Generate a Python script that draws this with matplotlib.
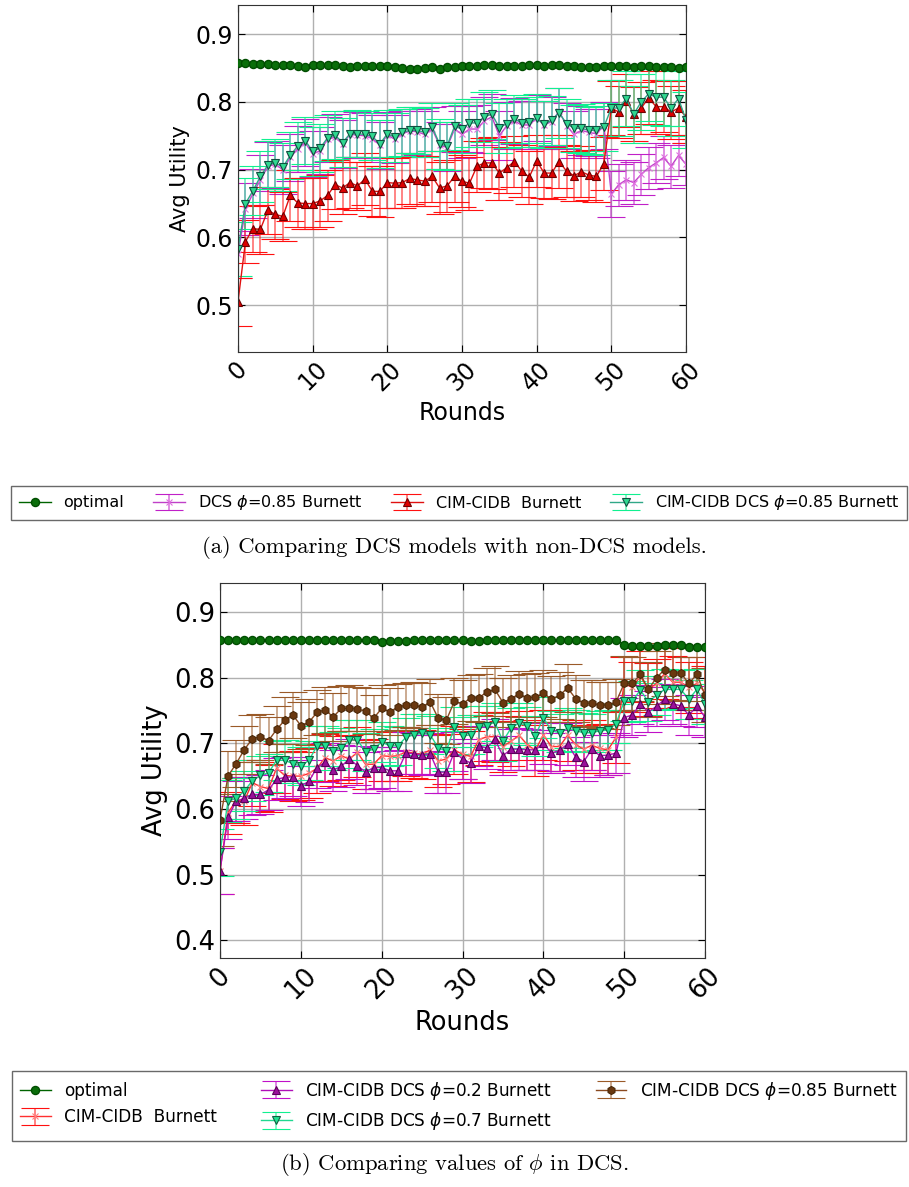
import numpy as np
import matplotlib
matplotlib.use('Agg')
import matplotlib.pyplot as plt
from matplotlib.ticker import MultipleLocator

plt.rcParams['mathtext.fontset'] = 'dejavusans'

# -----------------------------------------------------------------------
# Data
# -----------------------------------------------------------------------
ROUNDS = list(range(61))

optimal_a = [0.857, 0.857, 0.856, 0.856, 0.856, 0.855, 0.854, 0.854, 0.853, 0.851,
             0.855, 0.855, 0.854, 0.854, 0.853, 0.852, 0.853, 0.853, 0.853, 0.853,
             0.853, 0.851, 0.850, 0.849, 0.849, 0.850, 0.851, 0.849, 0.851, 0.851,
             0.853, 0.853, 0.853, 0.854, 0.854, 0.853, 0.853, 0.853, 0.853, 0.854,
             0.854, 0.853, 0.854, 0.854, 0.853, 0.853, 0.851, 0.852, 0.852, 0.853,
             0.853, 0.853, 0.853, 0.852, 0.853, 0.853, 0.852, 0.851, 0.851, 0.850, 0.851]

optimal_b = [0.857, 0.857, 0.857, 0.857, 0.857, 0.857, 0.857, 0.857, 0.857, 0.857,
             0.857, 0.857, 0.857, 0.857, 0.857, 0.857, 0.857, 0.857, 0.857, 0.857,
             0.854, 0.855, 0.856, 0.856, 0.857, 0.857, 0.857, 0.857, 0.857, 0.857,
             0.857, 0.855, 0.856, 0.857, 0.857, 0.857, 0.857, 0.857, 0.857, 0.857,
             0.857, 0.857, 0.857, 0.857, 0.857, 0.857, 0.857, 0.857, 0.857, 0.857,
             0.850, 0.848, 0.848, 0.848, 0.848, 0.849, 0.850, 0.849, 0.847, 0.846, 0.846]

# DCS phi=0.85 Burnett
dcs085 = [0.575, 0.642, 0.665, 0.685, 0.705, 0.708, 0.700, 0.718, 0.731, 0.740,
          0.723, 0.728, 0.745, 0.748, 0.738, 0.752, 0.751, 0.750, 0.746, 0.736,
          0.751, 0.745, 0.753, 0.757, 0.756, 0.752, 0.760, 0.736, 0.733, 0.760,
          0.752, 0.760, 0.760, 0.772, 0.778, 0.750, 0.765, 0.772, 0.766, 0.766,
          0.776, 0.766, 0.771, 0.786, 0.765, 0.752, 0.758, 0.755, 0.753, 0.765,
          0.664, 0.678, 0.685, 0.681, 0.693, 0.703, 0.710, 0.718, 0.705, 0.721, 0.708]
dcs085_err = [0.035, 0.038, 0.036, 0.037, 0.036, 0.035, 0.036, 0.035, 0.034, 0.035,
              0.034, 0.035, 0.033, 0.034, 0.035, 0.034, 0.034, 0.033, 0.034, 0.035,
              0.034, 0.035, 0.034, 0.033, 0.034, 0.034, 0.033, 0.035, 0.035, 0.034,
              0.035, 0.034, 0.036, 0.035, 0.034, 0.036, 0.035, 0.034, 0.035, 0.035,
              0.034, 0.035, 0.036, 0.035, 0.034, 0.035, 0.036, 0.035, 0.036, 0.035,
              0.034, 0.031, 0.030, 0.031, 0.030, 0.031, 0.030, 0.031, 0.032, 0.030, 0.031]

# CIM-CIDB Burnett
cidb = [0.505, 0.594, 0.613, 0.612, 0.640, 0.634, 0.631, 0.662, 0.651, 0.650,
        0.650, 0.654, 0.662, 0.678, 0.673, 0.681, 0.676, 0.686, 0.668, 0.668,
        0.681, 0.680, 0.681, 0.687, 0.685, 0.683, 0.690, 0.673, 0.676, 0.690,
        0.683, 0.680, 0.705, 0.710, 0.710, 0.695, 0.703, 0.712, 0.698, 0.689,
        0.713, 0.695, 0.695, 0.712, 0.698, 0.691, 0.697, 0.692, 0.690, 0.709,
        0.791, 0.785, 0.802, 0.782, 0.791, 0.806, 0.793, 0.793, 0.785, 0.791, 0.778]
cidb_err = [0.035, 0.032, 0.034, 0.036, 0.035, 0.037, 0.036, 0.037, 0.036, 0.038,
            0.037, 0.038, 0.037, 0.036, 0.038, 0.037, 0.036, 0.038, 0.037, 0.038,
            0.038, 0.037, 0.038, 0.037, 0.038, 0.037, 0.038, 0.039, 0.038, 0.037,
            0.038, 0.039, 0.038, 0.037, 0.038, 0.039, 0.038, 0.037, 0.038, 0.039,
            0.038, 0.037, 0.038, 0.039, 0.038, 0.037, 0.038, 0.037, 0.038, 0.039,
            0.040, 0.038, 0.039, 0.040, 0.038, 0.039, 0.040, 0.038, 0.039, 0.040, 0.039]

# CIM-CIDB DCS phi=0.85 Burnett
cidb_dcs085 = [0.583, 0.650, 0.669, 0.690, 0.707, 0.710, 0.704, 0.721, 0.735, 0.743,
               0.727, 0.732, 0.747, 0.751, 0.740, 0.753, 0.753, 0.752, 0.749, 0.738,
               0.753, 0.748, 0.755, 0.758, 0.758, 0.755, 0.763, 0.738, 0.735, 0.764,
               0.760, 0.769, 0.769, 0.778, 0.782, 0.762, 0.768, 0.775, 0.769, 0.770,
               0.776, 0.767, 0.773, 0.784, 0.768, 0.761, 0.761, 0.758, 0.758, 0.763,
               0.791, 0.791, 0.805, 0.782, 0.800, 0.812, 0.807, 0.807, 0.791, 0.805, 0.773]
cidb_dcs085_err = [0.040, 0.038, 0.036, 0.037, 0.036, 0.035, 0.036, 0.035, 0.036, 0.035,
                   0.036, 0.035, 0.034, 0.035, 0.036, 0.034, 0.035, 0.034, 0.035, 0.036,
                   0.035, 0.036, 0.035, 0.034, 0.035, 0.036, 0.035, 0.037, 0.036, 0.035,
                   0.036, 0.035, 0.036, 0.037, 0.036, 0.037, 0.036, 0.035, 0.036, 0.037,
                   0.036, 0.035, 0.036, 0.037, 0.036, 0.035, 0.036, 0.035, 0.036, 0.035,
                   0.042, 0.041, 0.040, 0.042, 0.041, 0.040, 0.041, 0.042, 0.041, 0.040, 0.041]

# CIM-CIDB DCS phi=0.2 Burnett
cidb_dcs02 = [0.506, 0.587, 0.612, 0.616, 0.622, 0.622, 0.629, 0.645, 0.648, 0.649,
              0.635, 0.642, 0.663, 0.671, 0.659, 0.665, 0.676, 0.666, 0.656, 0.663,
              0.663, 0.658, 0.658, 0.685, 0.684, 0.682, 0.684, 0.656, 0.656, 0.687,
              0.676, 0.670, 0.696, 0.693, 0.706, 0.681, 0.691, 0.691, 0.690, 0.690,
              0.700, 0.685, 0.689, 0.699, 0.679, 0.672, 0.691, 0.681, 0.682, 0.685,
              0.739, 0.743, 0.759, 0.748, 0.756, 0.767, 0.760, 0.757, 0.743, 0.756, 0.740]
cidb_dcs02_err = [0.035, 0.033, 0.031, 0.032, 0.031, 0.030, 0.031, 0.032, 0.031, 0.030,
                  0.031, 0.032, 0.031, 0.030, 0.031, 0.032, 0.031, 0.030, 0.031, 0.032,
                  0.031, 0.030, 0.031, 0.032, 0.031, 0.030, 0.031, 0.032, 0.031, 0.030,
                  0.031, 0.030, 0.031, 0.032, 0.031, 0.030, 0.031, 0.032, 0.031, 0.030,
                  0.031, 0.030, 0.031, 0.032, 0.031, 0.030, 0.031, 0.032, 0.031, 0.030,
                  0.030, 0.031, 0.030, 0.031, 0.030, 0.031, 0.030, 0.031, 0.030, 0.031, 0.030]

# CIM-CIDB DCS phi=0.7 Burnett
cidb_dcs07 = [0.534, 0.612, 0.616, 0.627, 0.643, 0.651, 0.655, 0.674, 0.674, 0.669,
              0.665, 0.674, 0.696, 0.696, 0.688, 0.693, 0.705, 0.705, 0.687, 0.691,
              0.702, 0.696, 0.696, 0.709, 0.713, 0.715, 0.713, 0.693, 0.688, 0.725,
              0.711, 0.713, 0.725, 0.727, 0.732, 0.703, 0.723, 0.731, 0.726, 0.711,
              0.739, 0.719, 0.716, 0.723, 0.719, 0.716, 0.716, 0.719, 0.720, 0.730,
              0.764, 0.764, 0.781, 0.763, 0.773, 0.782, 0.782, 0.782, 0.767, 0.782, 0.760]
cidb_dcs07_err = [0.036, 0.032, 0.031, 0.030, 0.031, 0.030, 0.029, 0.030, 0.031, 0.030,
                  0.029, 0.030, 0.031, 0.030, 0.029, 0.030, 0.031, 0.030, 0.029, 0.030,
                  0.031, 0.030, 0.029, 0.030, 0.031, 0.030, 0.029, 0.030, 0.031, 0.030,
                  0.029, 0.030, 0.031, 0.030, 0.029, 0.030, 0.031, 0.030, 0.029, 0.030,
                  0.031, 0.030, 0.029, 0.030, 0.031, 0.030, 0.029, 0.030, 0.031, 0.030,
                  0.030, 0.031, 0.030, 0.029, 0.030, 0.031, 0.030, 0.029, 0.030, 0.031, 0.030]

# -----------------------------------------------------------------------
# Styles
# -----------------------------------------------------------------------
STYLES = {
    "optimal":  dict(color="#006400", marker="o", ms=5.8, mfc="#0a6e0a", mec="#004d00"),
    "dcs085":   dict(color="#c020c8", marker="x", ms=4.5, mfc="#e070e0", mec="#e070e0"),
    "cidb_a":   dict(color="#ff1010", marker="^", ms=5.2, mfc="#dd0000", mec="#700000"),
    "cidb_b":   dict(color="#ff1010", marker="x", ms=4.5, mfc="#ff8080", mec="#ff8080"),
    "dcs02":    dict(color="#c010c8", marker="^", ms=5.2, mfc="#9a109a", mec="#5a005a"),
    "dcs07":    dict(color="#10f090", marker="v", ms=5.2, mfc="#20e090", mec="#106040"),
    "dcs085g":  dict(color="#10f090", marker="v", ms=5.2, mfc="#30d890", mec="#105040"),
    "dcs085b":  dict(color="#9a5a28", marker="h", ms=5.8, mfc="#6a3810", mec="#4a2808"),
}
LINE_COLORS = {"dcs085g": "#30a888", "cidb_a": "#e01010", "dcs085": "#c040c8",
               "dcs085b": "#8a4a20", "dcs07": "#20d890", "dcs02": "#b010b8",
               "cidb_b": "#ff3030"}


def draw_series(ax, y, err, key, label):
    st = STYLES[key]
    if err is None:
        ln, = ax.plot(ROUNDS, y, color=st["color"], marker=st["marker"], ms=st["ms"],
                      mfc=st["mfc"], mec=st["mec"], lw=1.0, label=label, zorder=3)
        return ln
    cont = ax.errorbar(ROUNDS, y, yerr=err, color=LINE_COLORS[key], ecolor=st["color"],
                       marker=st["marker"], ms=st["ms"], mfc=st["mfc"], mec=st["mec"],
                       mew=0.8, lw=1.0, elinewidth=1.2, capsize=10, capthick=2.2,
                       label=label, zorder=2)
    for bl in cont[2]:
        bl.set_alpha(0.6)
    return cont


def style_axes(ax, ylim, tick_fs, label_fs, ylabel_fs):
    ax.set_xlim(0, 60)
    ax.set_ylim(*ylim)
    ax.xaxis.set_major_locator(MultipleLocator(10))
    ax.yaxis.set_major_locator(MultipleLocator(0.1))
    ax.grid(True, color="#b0b0b0", linewidth=1.0)
    ax.set_axisbelow(True)
    ax.tick_params(direction="in", top=True, right=True, labelsize=tick_fs, length=5)
    for lab in ax.get_xticklabels():
        lab.set_rotation(45)
    for sp in ax.spines.values():
        sp.set_color("#333333")
    ax.set_xlabel("Rounds", fontsize=label_fs)
    ax.set_ylabel("Avg Utility", fontsize=ylabel_fs)


W, H = 909, 1187
fig = plt.figure(figsize=(W / 100, H / 100), dpi=100)

# --- panel (a) ---
ax1 = fig.add_axes([238 / W, 1 - 352 / H, 448 / W, 347 / H])
h = [draw_series(ax1, optimal_a, None, "optimal", "optimal"),
     draw_series(ax1, dcs085, dcs085_err, "dcs085", r"DCS $\phi$=0.85 Burnett"),
     draw_series(ax1, cidb, cidb_err, "cidb_a", "CIM-CIDB  Burnett"),
     draw_series(ax1, cidb_dcs085, cidb_dcs085_err, "dcs085g",
                 r"CIM-CIDB DCS $\phi$=0.85 Burnett")]
style_axes(ax1, (0.431, 0.943), 17, 17, 15)
leg = fig.legend(handles=h, loc="center", bbox_to_anchor=(459 / W, 1 - 503 / H),
                 ncol=4, fontsize=11.5, frameon=True, fancybox=False,
                 handlelength=2.0, columnspacing=1.8, borderpad=0.5)
leg.get_frame().set_edgecolor("#444444")

fig.text(0.5, 1 - 548 / H, "(a) Comparing DCS models with non-DCS models.",
         ha="center", va="center", family="cmr10", fontsize=16.3)

# --- panel (b) ---
ax2 = fig.add_axes([220 / W, 1 - 958 / H, 485 / W, 375 / H])
h2 = [draw_series(ax2, optimal_b, None, "optimal", "optimal"),
      draw_series(ax2, cidb, cidb_err, "cidb_b", "CIM-CIDB  Burnett"),
      draw_series(ax2, cidb_dcs02, cidb_dcs02_err, "dcs02", r"CIM-CIDB DCS $\phi$=0.2 Burnett"),
      draw_series(ax2, cidb_dcs07, cidb_dcs07_err, "dcs07", r"CIM-CIDB DCS $\phi$=0.7 Burnett"),
      draw_series(ax2, cidb_dcs085, cidb_dcs085_err, "dcs085b",
                  r"CIM-CIDB DCS $\phi$=0.85 Burnett")]
style_axes(ax2, (0.373, 0.944), 18.5, 18.5, 18.5)
leg2 = fig.legend(handles=h2, loc="center", bbox_to_anchor=(459 / W, 1 - 1106 / H),
                  ncol=3, fontsize=12.2, frameon=True, fancybox=False,
                  handlelength=1.8, columnspacing=2.6, borderpad=0.5)
leg2.get_frame().set_edgecolor("#444444")

fig.text(0.5, 1 - 1165 / H, r"(b) Comparing values of $\phi$ in DCS.",
         ha="center", va="center", family="cmr10", fontsize=16.3, math_fontfamily="cm")

fig.savefig("out.png", dpi=100)
